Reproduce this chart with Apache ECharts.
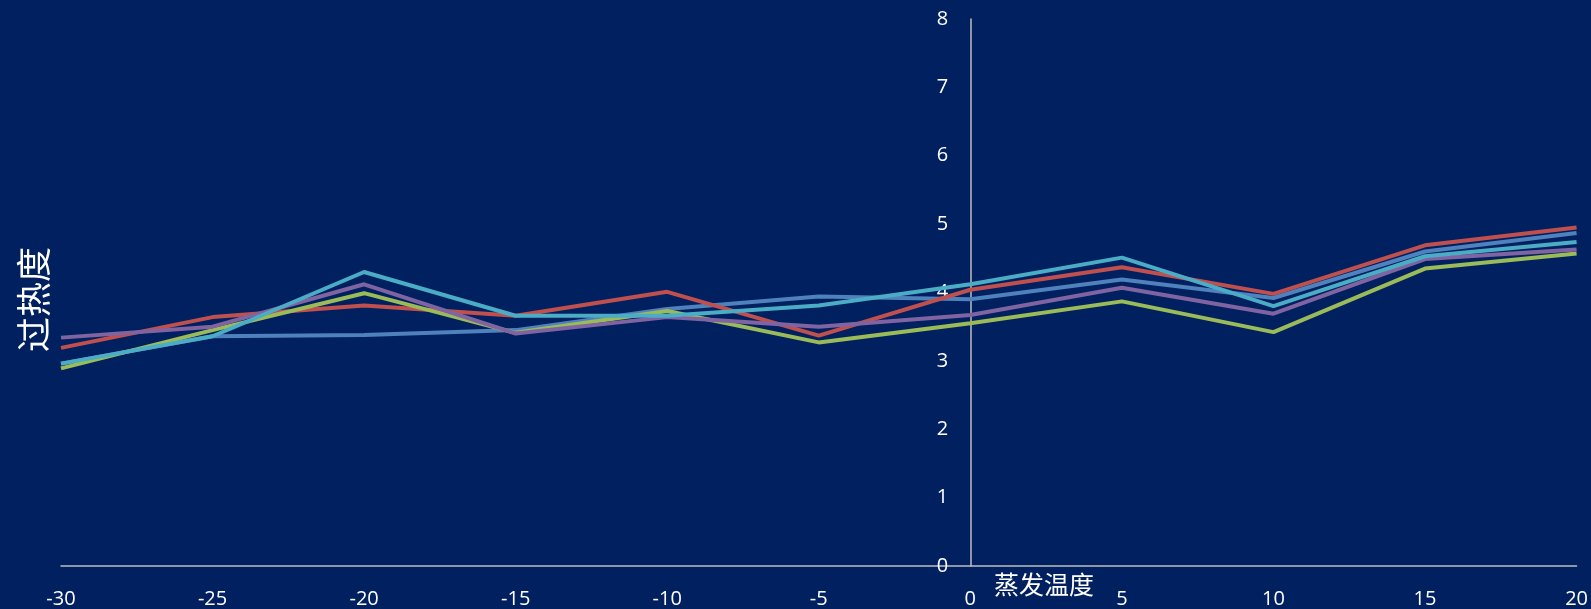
<!DOCTYPE html>
<html>
<head>
<meta charset="utf-8">
<script src="https://cdn.jsdelivr.net/npm/echarts@6/dist/echarts.min.js"></script>
<style>
html,body{margin:0;padding:0;background:#002060;}
#c{width:1591px;height:609px;}
</style>
</head>
<body>
<div id="c"></div>
<script>
const temps = [-30, -25, -20, -15, -10, -5, 0, 5, 10, 15, 20];
const blueVals   = [2.96, 3.36, 3.38, 3.45, 3.76, 3.94, 3.90, 4.19, 3.92, 4.60, 4.87];
const redVals    = [3.19, 3.64, 3.81, 3.66, 4.01, 3.37, 4.04, 4.37, 3.98, 4.69, 4.95];
const greenVals  = [2.89, 3.45, 3.99, 3.41, 3.73, 3.27, 3.55, 3.87, 3.42, 4.35, 4.57];
const purpleVals = [3.34, 3.50, 4.12, 3.40, 3.64, 3.50, 3.67, 4.07, 3.69, 4.49, 4.63];
const cyanVals   = [2.96, 3.36, 4.30, 3.66, 3.66, 3.81, 4.12, 4.51, 3.80, 4.53, 4.74];
const seriesNames = ['系列1', '系列2', '系列3', '系列4', '系列5'];
const seriesColors = ['#4F81BD', '#C0504D', '#9BBB59', '#8064A2', '#4BACC6'];
const xTitle = '蒸发温度';
const yTitle = '过热度';

const allVals = [blueVals, redVals, greenVals, purpleVals, cyanVals];
const W = 1591, gridLeft = 61, gridRight = 13;
const xMin = -30, xMax = 20;
const zeroOffset = (W - gridLeft - gridRight) * (0 - xMin) / (xMax - xMin);

const chart = echarts.init(document.getElementById('c'));
chart.setOption({
  backgroundColor: '#002060',
  animation: false,
  grid: {left: gridLeft, right: gridRight, top: 19, bottom: 42, containLabel: false},
  xAxis: {
    type: 'value', min: xMin, max: xMax, interval: 5,
    axisLine: {show: true, onZero: false, lineStyle: {color: '#BFBFBF', width: 1.5}},
    axisTick: {show: false},
    splitLine: {show: false},
    axisLabel: {color: '#FFFFFF', fontSize: 20, fontFamily: 'Open Sans', margin: 23}
  },
  yAxis: {
    type: 'value', min: 0, max: 8, interval: 1,
    position: 'left',
    offset: -zeroOffset,
    axisLine: {show: true, onZero: false, lineStyle: {color: '#BFBFBF', width: 1.5}},
    axisTick: {show: false},
    splitLine: {show: false},
    axisLabel: {color: '#FFFFFF', fontSize: 20, fontFamily: 'Open Sans', margin: 23}
  },
  graphic: [
    {type: 'text', left: 994, top: 572, style: {text: xTitle, fill: '#FFFFFF', font: '25px "Noto Sans CJK SC"'}},
    {type: 'text', x: 16, y: 352, rotation: Math.PI / 2, style: {text: yTitle, fill: '#FFFFFF', font: '35px "Noto Sans CJK SC"'}}
  ],
  series: allVals.map((vals, i) => ({
    name: seriesNames[i],
    type: 'line',
    data: temps.map((t, j) => [t, vals[j]]),
    showSymbol: false,
    symbol: 'none',
    lineStyle: {color: seriesColors[i], width: 4},
    itemStyle: {color: seriesColors[i]}
  }))
});
</script>
</body>
</html>
